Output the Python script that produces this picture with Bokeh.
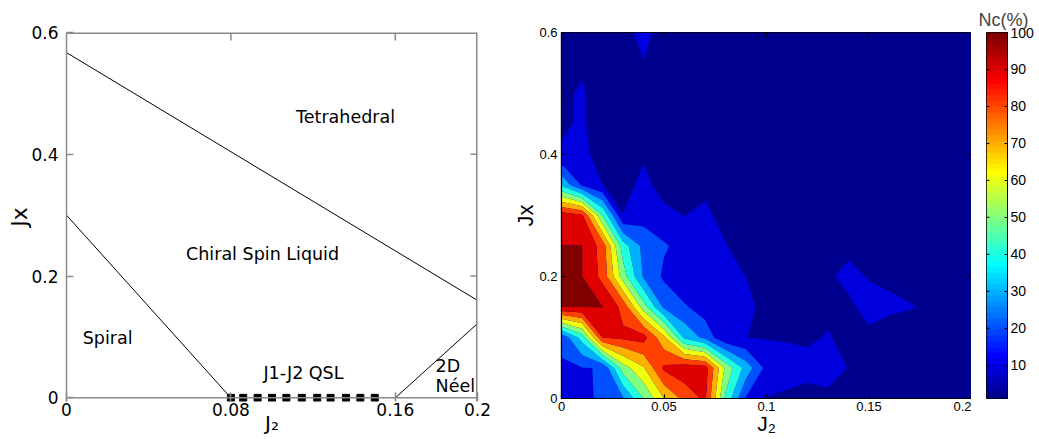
import numpy as np
from bokeh.plotting import figure
from bokeh.layouts import row
from bokeh.models import Range1d, LinearAxis, FixedTicker, Span, LinearColorMapper
from bokeh.embed import file_html
from bokeh.resources import INLINE
from bokeh.core.properties import value

# ---------------- left panel: phase diagram ----------------
tetra_boundary_x = [0.0, 0.2]
tetra_boundary_y = [0.567, 0.160]
spiral_boundary_x = [0.0, 0.08]
spiral_boundary_y = [0.300, 0.0]
neel_boundary_x = [0.16, 0.2]
neel_boundary_y = [0.0, 0.122]
qsl_points_x = [0.080, 0.086, 0.093, 0.100, 0.107, 0.1145, 0.122, 0.1285, 0.136, 0.143, 0.150]
qsl_points_y = [0.0, 0.0, 0.0, 0.0, 0.0, 0.0, 0.0, 0.0, 0.0, 0.0, 0.0]

phase_names = ["Tetrahedral", "Chiral Spin Liquid", "Spiral", "J1-J2 QSL"]
phase_name_x = [0.1358, 0.0954, 0.020, 0.1153]
phase_name_y = [0.462, 0.237, 0.099, 0.040]
neel_names = ["2D", "Néel"]
neel_name_x = [0.1796, 0.1796]
neel_name_y = [0.053, 0.0194]

left_xticks = [0, 0.08, 0.16, 0.2]
left_xtick_labels = ["0", "0.08", "0.16", "0.2"]
left_yticks = [0, 0.2, 0.4, 0.6]
left_ytick_labels = ["0", "0.2", "0.4", "0.6"]

# ---------------- right panel: Nc(%) map ----------------
j2_values = [0.00, 0.01, 0.02, 0.03, 0.04, 0.05, 0.06, 0.07, 0.08, 0.09, 0.10,
             0.11, 0.12, 0.13, 0.14, 0.15, 0.16, 0.17, 0.18, 0.19, 0.20]
jx_values = [0.00, 0.05, 0.10, 0.15, 0.20, 0.25, 0.30, 0.35, 0.40, 0.45, 0.50, 0.55, 0.60]

nc_jx000 = [16, 18, 21.5, 29, 50, 70, 83, 92, 48, 19, 9.7, 7.9, 4.7, 8.3, 6, 4, 3, 3, 2, 2, 2]
nc_jx005 = [19, 19.5, 20.5, 55, 69, 92, 97, 95, 58, 36, 17, 15, 14.9, 13, 9.8, 6, 4, 3, 3, 2, 2]
nc_jx010 = [22, 44, 90, 92, 94, 72, 38, 27, 11, 10.05, 9.43, 9, 7.7, 11, 6, 8.4, 5.7, 5, 4, 3, 2]
nc_jx015 = [100, 100, 100, 87, 55, 28, 21.25, 15, 13, 12, 7.7, 6, 5, 7, 8.5, 12.5, 11.5, 10.5, 8.8, 5, 3]
nc_jx020 = [100, 100, 87, 55, 28.9, 18.3, 12, 13, 14, 9.9, 6, 5, 4, 9, 12, 9.6, 8.5, 7, 5, 4, 3]
nc_jx025 = [100, 100, 86, 45, 27, 21, 17, 14, 10.5, 5, 4, 3, 3, 4, 8.2, 7, 5, 4, 3, 2, 2]
nc_jx030 = [96, 92, 50, 10.3, 16, 14, 9.8, 12.5, 6.3, 4, 3, 3, 2, 2, 3, 3, 2, 2, 2, 1, 1]
nc_jx035 = [38, 19, 10.2, 4.7, 14, 4, 3, 7.3, 4, 3, 2, 2, 2, 2, 2, 2, 2, 1, 1, 1, 1]
nc_jx040 = [12, 16, 1, 3, 8.3, 3, 2, 2, 2, 2, 1, 1, 1, 1, 1, 1, 1, 1, 1, 1, 1]
nc_jx045 = [7.6, 12, 1, 2, 4, 3, 2, 2, 1, 1, 1, 1, 1, 1, 1, 1, 1, 1, 1, 1, 1]
nc_jx050 = [6.6, 12, 1, 3, 5, 3, 2, 2, 1, 1, 1, 1, 1, 1, 1, 1, 1, 1, 1, 1, 1]
nc_jx055 = [5, 7.5, 4, 6, 9.8, 5, 3, 2, 1, 1, 1, 1, 1, 1, 1, 1, 1, 1, 1, 1, 1]
nc_jx060 = [4, 5, 5, 6.6, 13, 6.2, 3, 2, 1, 1, 1, 1, 1, 1, 1, 1, 1, 1, 1, 1, 1]

contour_levels = [0, 10, 20, 30, 40, 50, 60, 70, 80, 90, 99.9, 101]
color_low, color_high = 1, 100

right_xticks = [0, 0.05, 0.1, 0.15, 0.2]
right_xtick_labels = ["0", "0.05", "0.1", "0.15", "0.2"]
right_yticks = [0, 0.2, 0.4, 0.6]
right_ytick_labels = ["0", "0.2", "0.4", "0.6"]
cbar_ticks = [10, 20, 30, 40, 50, 60, 70, 80, 90, 100]


def jet(m=64):
    n = int(np.ceil(m / 4))
    u = np.concatenate([np.arange(1, n + 1) / n, np.ones(n - 1), np.arange(n, 0, -1) / n])
    g = int(np.ceil(n / 2)) - (1 if m % 4 == 1 else 0) + np.arange(1, len(u) + 1)
    r = g + n
    b = g - n
    J = np.zeros((m, 3))
    for idx, ch in ((r, 0), (g, 1), (b, 2)):
        mask = (idx >= 1) & (idx <= m)
        J[idx[mask] - 1, ch] = u[mask]
    return ["#%02x%02x%02x" % tuple(int(round(c * 255)) for c in rgb) for rgb in J]


JET = jet(64)


def band_color(level):
    lv = max(level, color_low)
    i = int(np.floor((lv - color_low) / (color_high - color_low) * 64))
    return JET[min(max(i, 0), 63)]


band_colors = [band_color(l) for l in contour_levels[:-1]]

nc = np.array([nc_jx000, nc_jx005, nc_jx010, nc_jx015, nc_jx020, nc_jx025, nc_jx030,
               nc_jx035, nc_jx040, nc_jx045, nc_jx050, nc_jx055, nc_jx060], dtype=float)


def add_axis(p, side, ticks, labels, color, font, size, tick_in, standoff, line=True, width=1,
             label=None, label_size="20px", label_standoff=0):
    ax = LinearAxis(ticker=FixedTicker(ticks=ticks),
                    major_label_overrides={t: s for t, s in zip(ticks, labels)},
                    axis_line_color=color if line else None, axis_line_width=width,
                    major_tick_line_color=color, major_tick_line_width=width,
                    minor_tick_line_color=None, major_tick_in=tick_in, major_tick_out=0,
                    major_label_standoff=standoff, major_label_text_font=font,
                    major_label_text_font_size=size, major_label_text_color="black")
    if label is not None:
        ax.axis_label = label
        ax.axis_label_text_font = font
        ax.axis_label_text_font_size = label_size
        ax.axis_label_text_font_style = "normal"
        ax.axis_label_text_color = "black"
        ax.axis_label_standoff = label_standoff
    p.add_layout(ax, side)
    return ax


def mirror_ticks(p, ticks, at, length, along="x", color="black", width=1):
    ticks = list(ticks)
    if along == "x":
        p.segment(x0=ticks, y0=[at] * len(ticks), x1=ticks, y1=[at - length] * len(ticks),
                  line_color=color, line_width=width)
    else:
        p.segment(x0=[at] * len(ticks), y0=ticks, x1=[at - length] * len(ticks), y1=ticks,
                  line_color=color, line_width=width)


# ---------------- left figure ----------------
GRAY = "#8a8a8a"
LF = "DejaVu Sans"
left = figure(frame_width=411, frame_height=369, min_border_left=66, min_border_right=33,
              min_border_top=31, min_border_bottom=39,
              x_range=Range1d(0, 0.2), y_range=Range1d(-0.006, 0.6),
              x_axis_type=None, y_axis_type=None, output_backend="svg", toolbar_location=None)
left.grid.visible = False
left.outline_line_color = None
add_axis(left, "below", left_xticks, left_xtick_labels, GRAY, LF, "17px", 9, 1, line=False, width=1.5,
         label="J₂", label_size="20px", label_standoff=-8)
add_axis(left, "left", left_yticks, left_ytick_labels, GRAY, LF, "17px", 7, 8, width=1.5,
         label="Jx", label_size="22px", label_standoff=-4)
left.add_layout(Span(location=0, dimension="width", line_color=GRAY, line_width=1.5))
left.add_layout(Span(location=0.6, dimension="width", line_color=GRAY, line_width=3))
left.add_layout(Span(location=0.2, dimension="height", line_color=GRAY, line_width=3))
mirror_ticks(left, left_xticks[1:-1], 0.6, 8 * 0.606 / 369, "x", GRAY, 1.5)
mirror_ticks(left, left_yticks[1:-1], 0.2, 7 * 0.2 / 411, "y", GRAY, 1.5)

left.line(tetra_boundary_x, tetra_boundary_y, line_color="black", line_width=1)
left.line(spiral_boundary_x, spiral_boundary_y, line_color="black", line_width=1)
left.line(neel_boundary_x, neel_boundary_y, line_color="black", line_width=1)
left.scatter(qsl_points_x, qsl_points_y, marker="square", size=7, fill_color="black", line_color="black")

left.text(x=phase_name_x, y=phase_name_y, text=phase_names, text_font=value(LF),
          text_font_size="17.5px", text_align="center", text_baseline="middle", text_color="black")
left.text(x=neel_name_x, y=neel_name_y, text=neel_names, text_font=value(LF),
          text_font_size="17.5px", text_align="left", text_baseline="middle", text_color="black")

# ---------------- right figure ----------------
RF = "Liberation Sans"
right = figure(frame_width=410, frame_height=366, min_border_left=45, min_border_right=0,
               min_border_top=32, min_border_bottom=41,
               x_range=Range1d(0, 0.2), y_range=Range1d(0, 0.6),
               x_axis_type=None, y_axis_type=None, output_backend="svg", toolbar_location=None,
               background_fill_color=JET[0])
right.grid.visible = False
right.outline_line_color = "black"
right.outline_line_width = 1.2
cr = right.contour(x=j2_values, y=jx_values, z=nc, levels=contour_levels, fill_color=band_colors)
try:
    g = cr.fill_renderer.glyph
    g.line_color = g.fill_color
    g.line_width = 0.6
except Exception:
    pass
add_axis(right, "below", right_xticks, right_xtick_labels, "black", RF, "13px", 4, 3, width=1.2,
         label="J₂", label_size="21px", label_standoff=-2)
add_axis(right, "left", right_yticks, right_ytick_labels, "black", RF, "13px", 4, 4, width=1.2,
         label="Jx", label_size="22px", label_standoff=-2)
mirror_ticks(right, right_xticks[1:-1], 0.6, 4 * 0.6 / 366, "x", "black", 1.2)
mirror_ticks(right, right_yticks[1:-1], 0.2, 4 * 0.2 / 410, "y", "black", 1.2)

# ---------------- colour bar ----------------
cbar = figure(frame_width=21, frame_height=366, min_border_left=15, min_border_right=32,
              min_border_top=32, min_border_bottom=41,
              x_range=Range1d(0, 1), y_range=Range1d(color_low, color_high),
              x_axis_type=None, y_axis_type=None, output_backend="svg", toolbar_location=None,
              title="Nc(%)")
cbar.title.text_font = RF
cbar.title.text_font_size = "18px"
cbar.title.text_font_style = "normal"
cbar.title.align = "left"
cbar.title.offset = -8
cbar.title.standoff = 6
cbar.grid.visible = False
cbar.outline_line_color = "black"
mapper = LinearColorMapper(palette=JET, low=color_low, high=color_high)
grad = np.linspace(color_low, color_high, 256).reshape(-1, 1)
cbar.image(image=[grad], x=0, y=color_low, dw=1, dh=color_high - color_low, color_mapper=mapper)
add_axis(cbar, "right", cbar_ticks, [str(t) for t in cbar_ticks], "black", RF, "14px", 3, 3, width=1)
mirror_ticks(cbar, cbar_ticks[:-1], 0.0, -3 / 21, "y", "black", 1)

layout = row(left, right, cbar)
open("out.html", "w").write(file_html(layout, INLINE))
